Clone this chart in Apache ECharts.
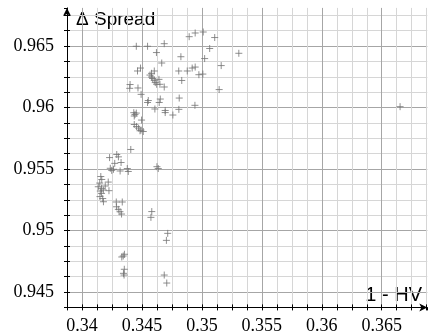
<!DOCTYPE html>
<html>
<head>
<meta charset="utf-8">
<script src="https://cdn.jsdelivr.net/npm/echarts@6/dist/echarts.min.js"></script>
<style>
    html, body { margin: 0; padding: 0; background: #fff; }
    #myChart { width: 430px; height: 336px; }
</style>
</head>
<body>
<div id="myChart"></div>
<script>
    // 1 - HV (x)
    const hv = [
        0.34894, 0.34944, 0.35011, 0.35107, 0.35065, 0.35308, 0.35161, 0.35023, 0.34825, 0.34807,
        0.34878, 0.34919, 0.34944, 0.34975, 0.35008, 0.34832, 0.35144, 0.34811, 0.34942, 0.34808,
        0.34758, 0.36653,
        0.34453, 0.34547, 0.34686, 0.34621, 0.34665, 0.34488, 0.34463, 0.34580, 0.34603, 0.34567,
        0.34580, 0.34590, 0.34603, 0.34611, 0.34623, 0.34650, 0.34686, 0.34642, 0.34401, 0.34398,
        0.34467, 0.34493, 0.34553, 0.34547, 0.34653, 0.34644, 0.34608, 0.34694, 0.34694, 0.34432,
        0.34442, 0.34453, 0.34436, 0.34497, 0.34436, 0.34455, 0.34472, 0.34492, 0.34511, 0.34484,
        0.34407,
        0.34230, 0.34290, 0.34304, 0.34326, 0.34273, 0.34236, 0.34248, 0.34263, 0.34318, 0.34378,
        0.34386, 0.34625, 0.34636, 0.34157, 0.34165, 0.34148, 0.34219, 0.34136, 0.34163, 0.34178,
        0.34225, 0.34163, 0.34150, 0.34173, 0.34179, 0.34286, 0.34336, 0.34288, 0.34303, 0.34317,
        0.34330, 0.34582, 0.34575, 0.34715, 0.34704, 0.34354, 0.34332, 0.34344, 0.34353, 0.34346,
        0.34351, 0.34686, 0.34707, 0.34194, 0.34153
    ];
    // Δ Spread (y)
    const spread = [
        0.96576, 0.96606, 0.96614, 0.96569, 0.96480, 0.96441, 0.96341, 0.96398, 0.96413, 0.96297,
        0.96297, 0.96321, 0.96329, 0.96267, 0.96272, 0.96220, 0.96146, 0.96077, 0.96018, 0.95985,
        0.95939, 0.96007,
        0.96498, 0.96498, 0.96519, 0.96447, 0.96362, 0.96321, 0.96297, 0.96278, 0.96297, 0.96264,
        0.96248, 0.96236, 0.96221, 0.96203, 0.96189, 0.96189, 0.96167, 0.96229, 0.96187, 0.96156,
        0.96159, 0.96107, 0.96057, 0.96041, 0.96069, 0.96041, 0.95988, 0.95976, 0.95959, 0.95958,
        0.95943, 0.95955, 0.95931, 0.95898, 0.95862, 0.95846, 0.95833, 0.95817, 0.95805, 0.95811,
        0.95659,
        0.95593, 0.95618, 0.95599, 0.95553, 0.95546, 0.95506, 0.95489, 0.95498, 0.95484, 0.95504,
        0.95480, 0.95519, 0.95504, 0.95439, 0.95415, 0.95386, 0.95394, 0.95356, 0.95343, 0.95329,
        0.95324, 0.95302, 0.95276, 0.95260, 0.95234, 0.95232, 0.95232, 0.95193, 0.95172, 0.95153,
        0.95134, 0.95154, 0.95107, 0.94977, 0.94920, 0.94807, 0.94785, 0.94793, 0.94685, 0.94652,
        0.94638, 0.94638, 0.94573, 0.95362, 0.95321
    ];
    // axis ranges (minor step 0.00125, labels every 0.005)
    const xRange = [0.33875, 0.3688];
    const yRange = [0.94375, 0.9681];
    const minorStep = 0.00125;

    const chart = echarts.init(document.getElementById('myChart'));

    // 只显示 0.005 的整数倍
    function majorLabel(v) {
        const k = Math.round(v * 1e5);
        return k % 500 === 0 ? String(+v.toFixed(3)) : '';
    }

    const minorCol = '#d6d6d6';
    const majorCol = '#a6a6a6';
    // min line is hidden, so the first split line is 0.34 / 0.945
    const gridCols = [majorCol, minorCol, minorCol, minorCol];
    const labelStyle = {
        fontFamily: 'Liberation Serif',
        fontSize: 18,
        color: '#000'
    };

    const option = {
        animation: false,
        grid: { left: 67, right: 2.7, top: 7.9, bottom: 28.6, containLabel: false },
        xAxis: [
            {
                type: 'value',
                min: xRange[0],
                max: xRange[1],
                interval: minorStep,
                axisLine: {
                    show: true,
                    onZero: false,
                    symbol: ['none', 'arrow'],
                    symbolSize: [6, 8],
                    lineStyle: { color: '#000', width: 1 }
                },
                axisTick: { show: true, inside: true, length: 3, lineStyle: { color: '#000' } },
                axisLabel: Object.assign({ margin: 10, formatter: majorLabel, showMaxLabel: false }, labelStyle),
                splitLine: {
                    show: true,
                    showMinLine: false,
                    showMaxLine: false,
                    lineStyle: { color: gridCols, width: 1 }
                }
            },
            {
                type: 'value',
                position: 'bottom',
                min: xRange[0],
                max: xRange[1],
                interval: minorStep,
                axisLine: { show: false, onZero: false },
                axisTick: { show: true, inside: false, length: 3, lineStyle: { color: '#000' } },
                axisLabel: { show: false },
                splitLine: { show: false }
            }
        ],
        yAxis: [
            {
                type: 'value',
                min: yRange[0],
                max: yRange[1],
                interval: minorStep,
                axisLine: {
                    show: true,
                    onZero: false,
                    symbol: ['none', 'arrow'],
                    symbolSize: [6, 8],
                    lineStyle: { color: '#000', width: 1 }
                },
                axisTick: { show: true, inside: true, length: 3, lineStyle: { color: '#000' } },
                axisLabel: Object.assign({ margin: 13, formatter: majorLabel, showMaxLabel: false }, labelStyle),
                splitLine: {
                    show: true,
                    showMinLine: false,
                    showMaxLine: false,
                    lineStyle: { color: gridCols, width: 1 }
                }
            },
            {
                type: 'value',
                position: 'left',
                min: yRange[0],
                max: yRange[1],
                interval: minorStep,
                axisLine: { show: false, onZero: false },
                axisTick: { show: true, inside: false, length: 3, lineStyle: { color: '#000' } },
                axisLabel: { show: false },
                splitLine: { show: false }
            }
        ],
        graphic: [
            {
                type: 'text',
                left: 76,
                top: 10,
                style: { text: 'Δ Spread', font: '19px "Liberation Sans"', fill: '#000' }
            },
            {
                type: 'text',
                right: 8,
                top: 285,
                style: { text: '1 - HV', font: '20px "Liberation Sans"', fill: '#000' }
            }
        ],
        series: [
            {
                type: 'scatter',
                xAxisIndex: 0,
                yAxisIndex: 0,
                data: hv.map((x, i) => [x, spread[i]]),
                symbol: 'path://M5,0L5,10M0,5L10,5',
                symbolSize: 7,
                itemStyle: { color: 'rgba(0,0,0,0)', borderColor: '#737373', borderWidth: 1 }
            }
        ]
    };
    chart.setOption(option);
</script>
</body>
</html>
